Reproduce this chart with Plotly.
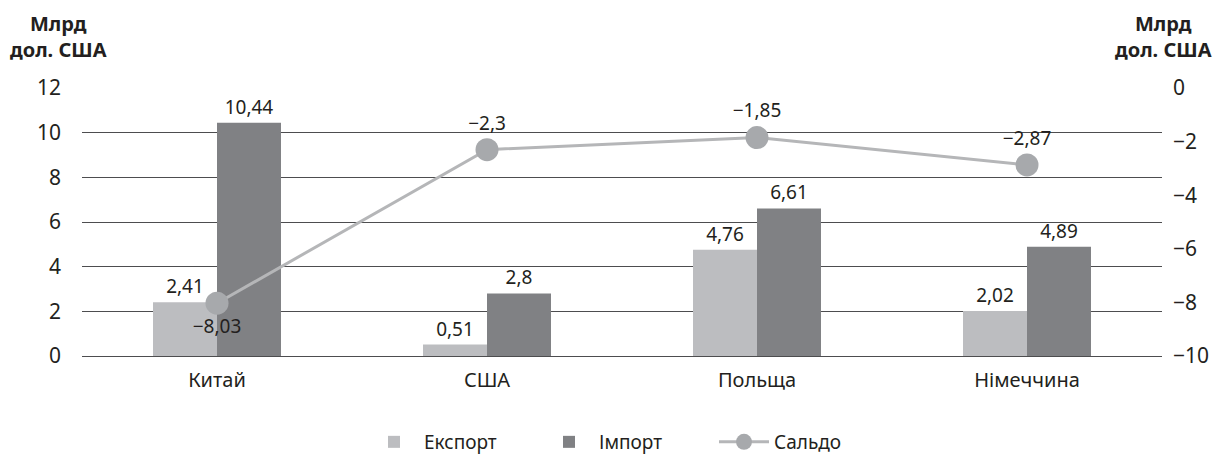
import plotly.graph_objects as go

categories = ["Китай", "США", "Польща", "Німеччина"]
export_vals = [2.41, 0.51, 4.76, 2.02]
import_vals = [10.44, 2.8, 6.61, 4.89]
saldo_vals = [-8.03, -2.3, -1.85, -2.87]
saldo_text_pos = ["bottom center", "top center", "top center", "top center"]

FONT = "Noto Sans"
TXT = "#231f20"

W, H = 1217, 463
L, R, T, B = 82, 55, 88, 107
PW, PH = W - L - R, H - T - B


def fmt(v):
    return str(v).replace(".", ",").replace("-", "\u2212")


fig = go.Figure()
fig.add_trace(go.Bar(
    x=categories, y=export_vals, name="Експорт",
    marker=dict(color="#bcbdc0", line=dict(width=0)),
    text=[fmt(v) for v in export_vals],
    textposition="outside", textfont=dict(size=19, color=TXT, family=FONT),
    cliponaxis=False,
))
fig.add_trace(go.Bar(
    x=categories, y=import_vals, name="Імпорт",
    marker=dict(color="#808184", line=dict(width=0)),
    text=[fmt(v) for v in import_vals],
    textposition="outside", textfont=dict(size=19, color=TXT, family=FONT),
    cliponaxis=False,
))
fig.add_trace(go.Scatter(
    x=categories, y=saldo_vals, name="Сальдо", yaxis="y2",
    mode="lines+markers+text",
    line=dict(color="#b5b6b8", width=3),
    marker=dict(color="#a7a9ac", size=23, line=dict(width=0)),
    text=[fmt(v) for v in saldo_vals],
    textposition=saldo_text_pos,
    textfont=dict(size=19, color=TXT, family=FONT),
    cliponaxis=False,
))

fig.update_layout(
    width=W, height=H,
    margin=dict(l=L, r=R, t=T, b=B, autoexpand=False),
    paper_bgcolor="white", plot_bgcolor="white",
    font=dict(family=FONT, size=18, color=TXT),
    barmode="group", bargap=0.526, bargroupgap=0,
    separators=", ",
    xaxis=dict(showgrid=False, showline=False, ticks="", automargin=False,
               ticklabelstandoff=10, tickfont=dict(size=20, color=TXT)),
    yaxis=dict(range=[0, 12], dtick=2, showgrid=True, gridcolor="#4d4d4f", gridwidth=1.4,
               zeroline=True, zerolinecolor="#4d4d4f", zerolinewidth=1.4,
               showline=False, ticks="", ticklabelstandoff=20, automargin=False,
               tickfont=dict(size=21, color=TXT)),
    yaxis2=dict(range=[-10, 0], dtick=2, overlaying="y", side="right", showgrid=False,
                zeroline=False, showline=False, ticks="", ticklabelstandoff=10,
                automargin=False, tickfont=dict(size=21, color=TXT)),
    legend=dict(orientation="h", x=(364 - L) / PW, xanchor="left",
                y=-(442 - 356) / PH, yanchor="middle",
                font=dict(size=19, color=TXT), itemwidth=50, entrywidth=110,
                entrywidthmode="pixels"),
    showlegend=True,
    annotations=[
        dict(text="<b>Млрд<br>дол. США</b>", x=(58 - L) / PW, y=(356 - 36) / PH,
             xref="paper", yref="paper", xanchor="center", yanchor="middle",
             showarrow=False, font=dict(size=20, color=TXT)),
        dict(text="<b>Млрд<br>дол. США</b>", x=(1163 - L) / PW, y=(356 - 36) / PH,
             xref="paper", yref="paper", xanchor="center", yanchor="middle",
             showarrow=False, font=dict(size=20, color=TXT)),
    ],
)

fig.write_html("out.html", post_script="document.body.style.margin='0';",
               config={"displayModeBar": False})
